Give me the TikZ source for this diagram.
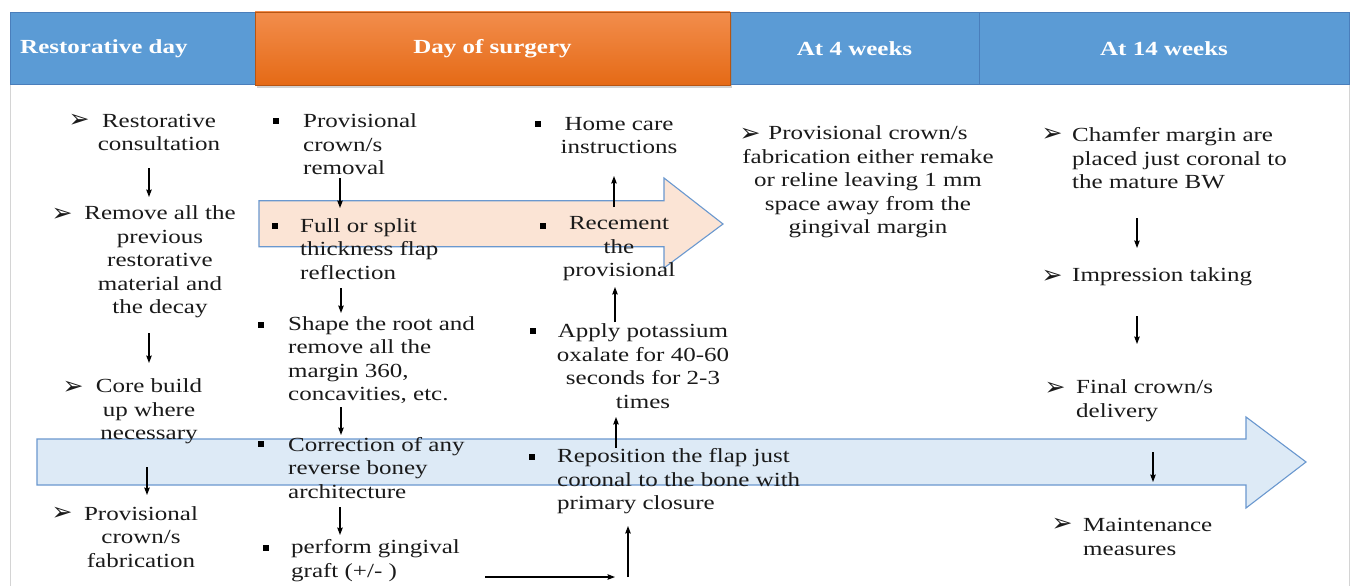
\documentclass[tikz,border=0pt]{standalone}
\usepackage{fontspec}
\setmainfont{Liberation Serif}[FakeStretch=1.25]
\newfontfamily\dingfont{DejaVu Sans}
\usetikzlibrary{arrows.meta,shadows}
\definecolor{hdrblue}{HTML}{5B9BD5}
\definecolor{hdrborder}{HTML}{4A7EBB}
\definecolor{orangeA}{HTML}{F28D4C}
\definecolor{orangeB}{HTML}{E56A16}
\definecolor{pinkfill}{HTML}{FBE4D5}
\definecolor{arrowedge}{HTML}{6A98CF}
\definecolor{bluefill}{HTML}{DDEAF6}
\definecolor{framegray}{HTML}{D4D4D4}
\definecolor{inktext}{HTML}{1A1A1A}
\tikzset{
  txt/.style={font=\fontsize{20}{23.5}\selectfont, inner sep=0pt, text=inktext},
  ctxt/.style={txt, align=center},
  ltxt/.style={txt, align=left, anchor=west},
  hdr/.style={font=\bfseries\fontsize{20}{24}\selectfont, text=white, inner sep=0pt},
  hdrbox/.style={draw=hdrborder, line width=0.6pt, fill=hdrblue, inner sep=0pt},
  arr/.style={-{Stealth[length=7.5pt,width=5.5pt,inset=1pt]}, line width=1.2pt},
  sq/.style={fill=black, minimum size=5.5pt, inner sep=0pt},
  dart/.style={font=\dingfont\fontsize{25}{26}\selectfont, inner sep=0pt, text=inktext},
  bigarrow/.style={draw=arrowedge, line width=1.1pt, line join=miter}
}
\begin{document}
\begin{tikzpicture}[x=1pt,y=-1pt]
\useasboundingbox (0,0) rectangle (1351,586);
\fill[white] (0,0) rectangle (1351,586);
% frame
\draw[framegray, line width=0.8pt] (10,84) -- (10,586);
\draw[framegray, line width=0.8pt] (1349,84) -- (1349,586);
% headers
\node[hdrbox, minimum width=245pt, minimum height=72pt] (h1) at (132.5,48) {};
\node[hdrbox, minimum width=249pt, minimum height=72pt] (h3) at (854.5,48) {};
\node[hdrbox, minimum width=370pt, minimum height=72pt] (h4) at (1164,48) {};
\node[inner sep=0pt, minimum width=475pt, minimum height=73pt, top color=orangeA, bottom color=orangeB, draw=orangeB!80!black, line width=0.3pt,
  drop shadow={shadow xshift=2pt, shadow yshift=-3pt, opacity=0.35}] (h2) at (492.5,48.5) {};
\node[hdr, anchor=west] (t1) at (20,49) {Restorative day};
\node[hdr] (t2) at (h2.center) {Day of surgery};
\node[hdr] (t3) at (854.5,49) {At 4 weeks};
\node[hdr] (t4) at (1164,49) {At 14 weeks};
% big arrows
\draw[bigarrow, fill=pinkfill] (259,200.7) -- (664,200.7) -- (664,178) -- (723,224) -- (664,268) -- (664,246.7) -- (259,246.7) -- cycle;
\draw[bigarrow, fill=bluefill] (37,439) -- (1246,439) -- (1246,417) -- (1306,462) -- (1246,508) -- (1246,485) -- (37,485) -- cycle;
% column 1
\node[dart] (b1) at (79,121) {➢};
\node[ctxt] (A1) at (159,132.5) {Restorative\\consultation};
\node[dart] (b2) at (62,215) {➢};
\node[ctxt] (A2) at (160,262) {Remove all the\\previous\\restorative\\material and\\the decay};
\node[dart] (b3) at (73,388) {➢};
\node[ctxt] (A3) at (149,411.5) {Core build\\up where\\necessary};
\node[dart] (b4) at (62,514) {➢};
\node[ctxt] (A4) at (141,537) {Provisional\\crown/s\\fabrication};
% column 2
\node[sq] (s1) at (276,121) {};
\node[ltxt] (B1) at (303,144.5) {Provisional\\crown/s\\removal};
\node[sq] (s2) at (275,226) {};
\node[ltxt] (B2) at (300,249) {Full or split\\thickness flap\\reflection};
\node[sq] (s3) at (261,325) {};
\node[ltxt] (B3) at (288,360) {Shape the root and\\remove all the\\margin 360,\\concavities, etc.};
\node[sq] (s4) at (261,444) {};
\node[ltxt] (B4) at (288,468) {Correction of any\\reverse boney\\architecture};
\node[sq] (s5) at (266,548) {};
\node[ltxt] (B5) at (291,560.5) {perform gingival\\graft (+/- )};
% column 3
\node[sq] (s6) at (538,124) {};
\node[ctxt] (C1) at (619,135.5) {Home care\\instructions};
\node[sq] (s7) at (543,226) {};
\node[ctxt] (C2) at (619,249) {Recement\\the\\provisional};
\node[sq] (s8) at (533,331) {};
\node[ctxt] (C3) at (643,366) {Apply potassium\\oxalate for 40-60\\seconds for 2-3\\times};
\node[sq] (s9) at (532,457) {};
\node[ltxt] (C4) at (557,481.5) {Reposition the flap just\\coronal to the bone with\\primary closure};
% column 4
\node[dart] (b5) at (750,135) {➢};
\node[ctxt] (D1) at (868,182) {Provisional crown/s\\fabrication either remake\\or reline leaving 1 mm\\space away from the\\gingival margin};
% column 5
\node[dart] (b6) at (1052,135) {➢};
\node[ltxt] (E1) at (1072,158.5) {Chamfer margin are\\placed just coronal to\\the mature BW};
\node[dart] (b7) at (1052,277) {➢};
\node[ltxt] (E2) at (1072,277) {Impression taking};
\node[dart] (b8) at (1055,389) {➢};
\node[ltxt] (E3) at (1076,400.5) {Final crown/s\\delivery};
\node[dart] (b9) at (1062,525) {➢};
\node[ltxt] (E4) at (1083,537) {Maintenance\\measures};
% connector coordinates
\coordinate (p1a) at (149,168); \coordinate (p1b) at (149,197);
\coordinate (p2a) at (149,333); \coordinate (p2b) at (149,363);
\coordinate (p3a) at (147,467); \coordinate (p3b) at (147,495);
\coordinate (q1a) at (340,178); \coordinate (q1b) at (340,208);
\coordinate (q2a) at (341,288); \coordinate (q2b) at (341,313);
\coordinate (q3a) at (341,407); \coordinate (q3b) at (341,435);
\coordinate (q4a) at (340,507); \coordinate (q4b) at (340,535);
\coordinate (h5a) at (485,577); \coordinate (h5b) at (615,577);
\coordinate (r1a) at (628,577); \coordinate (r1b) at (628,526);
\coordinate (r2a) at (616,448); \coordinate (r2b) at (616,417);
\coordinate (r3a) at (615,322); \coordinate (r3b) at (615,287);
\coordinate (r4a) at (614,207); \coordinate (r4b) at (614,176);
\coordinate (e1a) at (1137,218); \coordinate (e1b) at (1137,248);
\coordinate (e2a) at (1137,316); \coordinate (e2b) at (1137,344);
\coordinate (e3a) at (1153,452); \coordinate (e3b) at (1153,482);
% connectors
\foreach \s/\e in {p1a/p1b,p2a/p2b,p3a/p3b,q1a/q1b,q2a/q2b,q3a/q3b,q4a/q4b,h5a/h5b,r1a/r1b,r2a/r2b,r3a/r3b,r4a/r4b,e1a/e1b,e2a/e2b,e3a/e3b}
  \draw[arr] (\s) -- (\e);
\end{tikzpicture}
\end{document}
